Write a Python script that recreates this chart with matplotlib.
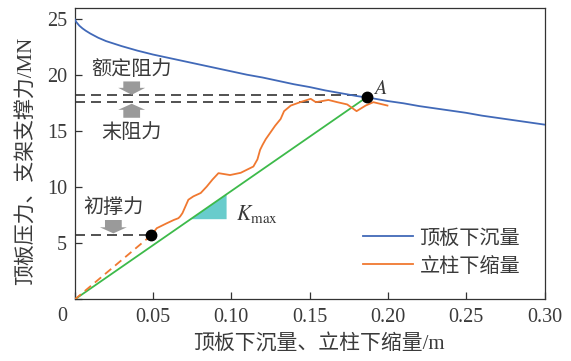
import matplotlib
matplotlib.use("Agg")
import matplotlib.pyplot as plt
from matplotlib.patches import Polygon
from matplotlib.lines import Line2D

plt.rcParams['mathtext.fontset'] = 'stix'

# Roof subsidence curve (m, MN)
roof_x = [0.0, 0.001, 0.003, 0.005, 0.007, 0.01, 0.015, 0.02, 0.03, 0.04, 0.05, 0.06,
          0.07, 0.08, 0.09, 0.10, 0.11, 0.12, 0.13, 0.14, 0.15, 0.16, 0.17, 0.18,
          0.19, 0.20, 0.21, 0.22, 0.23, 0.24, 0.25, 0.26, 0.27, 0.28, 0.29, 0.30]
roof_p = [25.0, 24.75, 24.42, 24.18, 23.98, 23.72, 23.35, 23.05, 22.6, 22.2, 21.85, 21.55,
          21.25, 20.95, 20.65, 20.35, 20.05, 19.8, 19.5, 19.2, 18.95, 18.65, 18.4, 18.15,
          17.95, 17.7, 17.5, 17.25, 17.05, 16.85, 16.65, 16.4, 16.2, 16.0, 15.8, 15.6]

# Leg shortening curve after setting (m, MN)
leg_x = [0.049, 0.0524, 0.0588, 0.0634, 0.0662, 0.0673, 0.0688, 0.0726, 0.0758, 0.0805,
         0.0843, 0.088, 0.0918, 0.0992, 0.106, 0.1141, 0.1167, 0.1184, 0.12, 0.122,
         0.125, 0.128, 0.1315, 0.1337, 0.138, 0.144, 0.1507, 0.154, 0.158, 0.162,
         0.1677, 0.174, 0.180, 0.1858, 0.1907, 0.1997]
leg_p = [5.74, 6.36, 6.8, 7.1, 7.25, 7.4, 7.7, 8.9, 9.2, 9.5,
         10.07, 10.7, 11.27, 11.1, 11.3, 11.86, 12.5, 13.35, 13.8, 14.3,
         14.9, 15.5, 16.1, 16.8, 17.3, 17.6, 17.9, 17.6, 17.7, 17.8,
         17.6, 17.4, 16.8, 17.3, 17.6, 17.3]

setting_force = (0.049, 5.74)      # 初撑力 point
point_a = (0.1865, 18.05)          # point A
rated_resistance = 18.2
final_resistance = 17.6
final_resistance_end = 0.158
kmax_x = (0.074, 0.097)

xticks = [0.0, 0.05, 0.10, 0.15, 0.20, 0.25, 0.30]
xtick_labels = ['', '0.05', '0.10', '0.15', '0.20', '0.25', '0.30']
yticks = [0, 5, 10, 15, 20, 25]
ytick_labels = ['', '5', '10', '15', '20', '25']

BLUE = '#4169b8'
ORANGE = '#f07830'
GREEN = '#3dba4a'
CYAN = '#68cccc'
ARROW = '#9a9a9a'
DASH = '#333333'
TXT = '#3a3a3a'

serif_cjk = ['Liberation Serif', 'Noto Sans CJK SC']
cjk = ['Noto Sans CJK SC', 'DejaVu Sans']
FS = 14.5
CJK_W = 'light'

fig = plt.figure(figsize=(5.71, 3.61), dpi=100)
ax = fig.add_axes([0.1308, 0.1704, 0.8228, 0.8074])
ax.set_xlim(0, 0.30)
ax.set_ylim(0, 26)

# reference lines
ax.plot([0, point_a[0]], [rated_resistance, rated_resistance], color=DASH, lw=1.2,
        ls=(0, (6, 3.6)), zorder=2)
ax.plot([0, final_resistance_end], [final_resistance, final_resistance], color=DASH, lw=1.2,
        ls=(0, (6, 3.6)), zorder=2)
ax.plot([0, setting_force[0]], [setting_force[1], setting_force[1]], color=DASH, lw=1.2,
        ls=(0, (6, 3.6)), zorder=2)

# stiffness line from origin to A
slope = point_a[1] / point_a[0]
ax.plot([0, point_a[0]], [0, point_a[1]], color=GREEN, lw=1.3, zorder=3)
k0, k1 = kmax_x
ax.add_patch(Polygon([(k0, slope * k0), (k1, slope * k1), (k1, slope * k0)],
                     closed=True, facecolor=CYAN, edgecolor='none', zorder=2))
ax.text(k1 + 0.0058, slope * k0 + 0.45, r'$K_{\rm max}$', fontsize=15.5, color=TXT,
        ha='left', va='center')

# curves
ax.plot(roof_x, roof_p, color=BLUE, lw=1.3, zorder=4)
ax.plot([0, setting_force[0]], [0, setting_force[1]], color=ORANGE, lw=1.3,
        ls=(0, (4.5, 2.8)), zorder=4)
ax.plot(leg_x, leg_p, color=ORANGE, lw=1.3, zorder=4)

ax.plot(*setting_force, 'o', color='black', ms=7.5, zorder=6)
ax.plot(*point_a, 'o', color='black', ms=7.5, zorder=6)
ax.text(point_a[0] + 0.004, point_a[1] + 0.75, r'$A$', fontsize=FS, color=TXT,
        ha='left', va='center')


def block_arrow(xc, y_tail, y_base, y_tip, body_w=0.0107, head_w=0.0172):
    b, h = body_w / 2, head_w / 2
    pts = [(xc - b, y_tail), (xc + b, y_tail), (xc + b, y_base), (xc + h, y_base),
           (xc, y_tip), (xc - h, y_base), (xc - b, y_base)]
    ax.add_patch(Polygon(pts, closed=True, facecolor=ARROW, edgecolor='none', zorder=5))


block_arrow(0.0364, 19.45, 18.88, 18.26)
block_arrow(0.0364, 16.21, 16.92, 17.46)
block_arrow(0.0247, 7.09, 6.44, 5.90)

ax.text(0.0364, 20.5, '额定阻力', family=cjk, weight=CJK_W, fontsize=FS, color=TXT,
        ha='center', va='center')
ax.text(0.0364, 14.87, '末阻力', family=cjk, weight=CJK_W, fontsize=FS, color=TXT,
        ha='center', va='center')
ax.text(0.0245, 8.2, '初撑力', family=cjk, weight=CJK_W, fontsize=FS, color=TXT,
        ha='center', va='center')

# axes styling
for s in ax.spines.values():
    s.set_color('#333333')
    s.set_linewidth(0.9)
ax.set_xticks(xticks)
ax.set_xticklabels(xtick_labels)
ax.set_yticks(yticks)
ax.set_yticklabels(ytick_labels)
ax.tick_params(axis='both', direction='in', length=5, width=0.9, color='#333333',
               labelsize=FS, labelcolor=TXT)
ax.tick_params(axis='x', pad=6.1)
ax.tick_params(axis='y', pad=5.5)
for lab in ax.get_xticklabels() + ax.get_yticklabels():
    lab.set_family('Liberation Serif')
ax.annotate('0', xy=(0, 0), xycoords='data', xytext=(-5.5, -12.6),
            textcoords='offset points', ha='right', va='center',
            fontsize=FS, color=TXT, family='Liberation Serif')

ax.text(0.519, -0.155, '顶板下沉量、立柱下缩量/m', transform=ax.transAxes,
        family=serif_cjk, weight=CJK_W, fontsize=15, color=TXT, ha='center', va='center')
ax.text(-0.103, 0.475, '顶板压力、支架支撑力/MN', transform=ax.transAxes,
        family=serif_cjk, weight=CJK_W, fontsize=15, color=TXT, ha='center', va='center',
        rotation=90)

handles = [Line2D([], [], color=BLUE, lw=1.3), Line2D([], [], color=ORANGE, lw=1.3)]
leg = ax.legend(handles, ['顶板下沉量', '立柱下缩量'], loc='center left',
                bbox_to_anchor=(0.6137, 0.163), frameon=False, borderpad=0,
                borderaxespad=0, handlelength=2.5, handletextpad=0.3,
                labelspacing=0.35, prop={'family': cjk, 'size': FS, 'weight': CJK_W})
for t in leg.get_texts():
    t.set_color(TXT)

fig.savefig('out.png', dpi=100)
